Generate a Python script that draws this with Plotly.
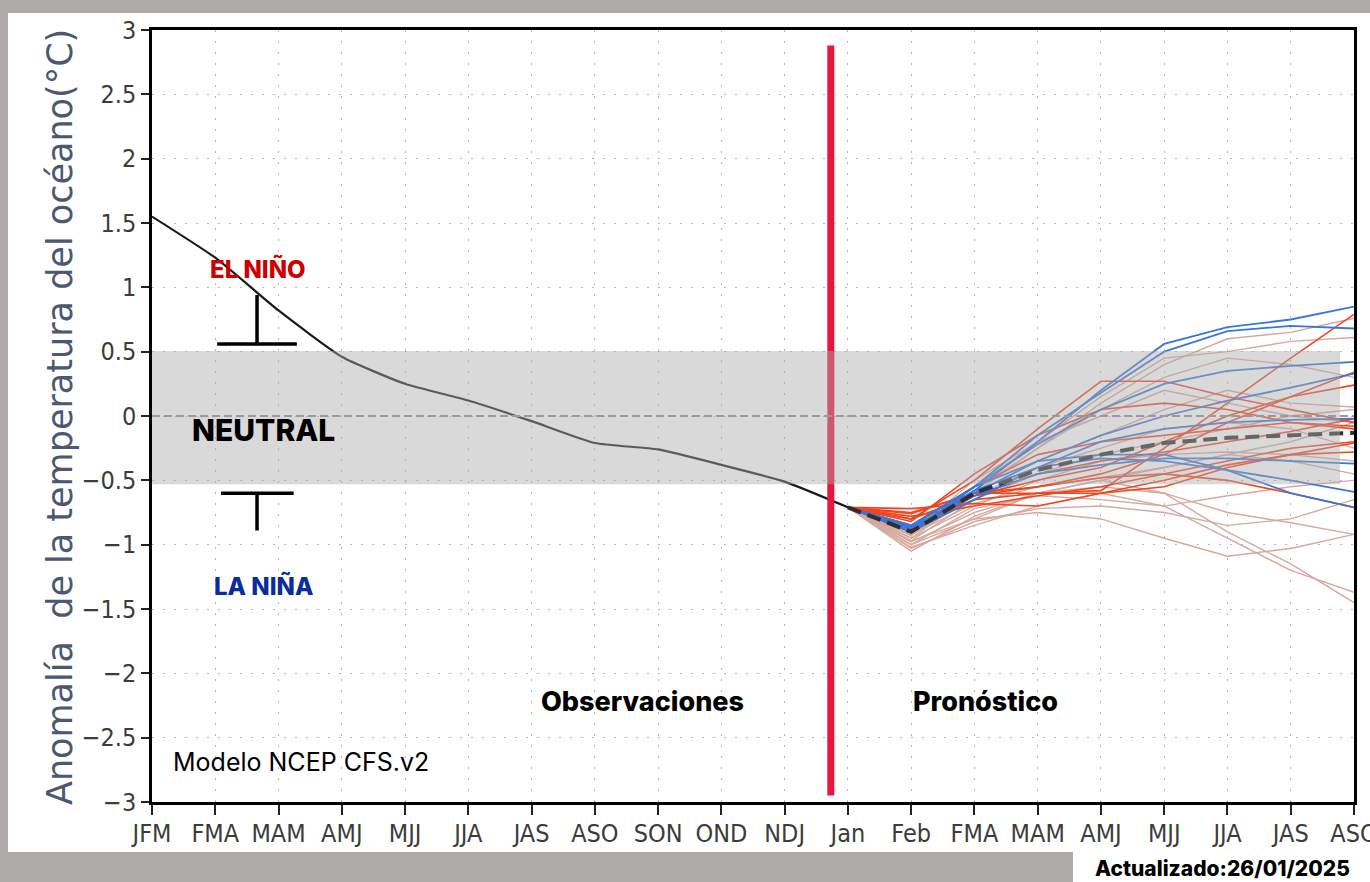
import plotly.graph_objects as go

# Seasons on the x axis (observed run + forecast run)
CATS = ["JFM", "FMA", "MAM", "AMJ", "MJJ", "JJA", "JAS", "ASO", "SON", "OND",
        "NDJ", "Jan", "Feb", "FMA", "MAM", "AMJ", "MJJ", "JJA", "JAS", "ASO"]

# Observed Niño 3.4 anomaly, JFM .. Jan
OBS = [1.55, 1.23, 0.82, 0.46, 0.25, 0.12, -0.04, -0.21, -0.26, -0.38, -0.51, -0.71]

# Forecast members, Jan .. ASO
BLUE_MEMBERS = [
    [-0.71, -0.88, -0.58, -0.20, 0.20, 0.56, 0.69, 0.75, 0.85],
    [-0.71, -0.86, -0.55, -0.15, 0.18, 0.50, 0.66, 0.70, 0.68],
    [-0.71, -0.85, -0.55, -0.22, 0.05, 0.25, 0.35, 0.39, 0.42],
    [-0.71, -0.90, -0.60, -0.35, -0.15, 0.00, 0.12, 0.22, 0.33],
    [-0.71, -0.87, -0.62, -0.45, -0.38, -0.33, -0.33, -0.35, -0.37],
    [-0.71, -0.90, -0.55, -0.35, -0.30, -0.30, -0.42, -0.60, -0.71],
    [-0.71, -0.88, -0.58, -0.40, -0.33, -0.35, -0.42, -0.50, -0.59],
    [-0.71, -0.90, -0.65, -0.40, -0.20, -0.10, -0.05, -0.03, -0.02],
]
RED_MEMBERS = [
    [-0.71, -0.85, -0.65, -0.60, -0.58, -0.25, 0.10, 0.45, 0.79],
    [-0.71, -0.80, -0.50, -0.10, 0.27, 0.27, 0.15, 0.05, -0.05],
    [-0.71, -0.80, -0.62, -0.50, -0.40, -0.20, 0.00, 0.15, 0.24],
    [-0.71, -0.76, -0.60, -0.55, -0.45, -0.30, -0.05, 0.15, 0.34],
    [-0.71, -0.80, -0.62, -0.55, -0.48, -0.45, -0.50, -0.60, -0.71],
    [-0.71, -0.75, -0.60, -0.60, -0.60, -0.55, -0.40, -0.30, -0.21],
    [-0.71, -0.85, -0.55, -0.30, -0.20, -0.15, -0.10, -0.05, -0.08],
    [-0.71, -0.90, -0.62, -0.45, -0.35, -0.28, -0.20, -0.12, -0.02],
    [-0.71, -0.78, -0.70, -0.62, -0.55, -0.45, -0.35, -0.25, -0.20],
    [-0.71, -0.82, -0.45, -0.15, 0.05, 0.10, 0.05, -0.05, -0.10],
    [-0.71, -0.72, -0.68, -0.70, -0.60, -0.50, -0.38, -0.30, -0.28],
]
PALE_MEMBERS = [
    [-0.71, -0.95, -0.60, -0.25, 0.10, 0.40, 0.60, 0.65, 0.76],
    [-0.71, -0.90, -0.55, -0.20, 0.15, 0.45, 0.50, 0.58, 0.61],
    [-0.71, -1.00, -0.80, -0.75, -0.80, -0.95, -1.09, -1.03, -0.92],
    [-0.71, -1.02, -0.85, -0.70, -0.60, -0.70, -0.95, -1.20, -1.37],
    [-0.71, -0.97, -0.80, -0.60, -0.50, -0.60, -0.90, -1.15, -1.45],
    [-0.71, -0.98, -0.75, -0.60, -0.55, -0.60, -0.75, -0.83, -0.92],
    [-0.71, -0.93, -0.60, -0.35, -0.15, 0.05, 0.20, 0.10, 0.07],
    [-0.71, -1.05, -0.78, -0.60, -0.50, -0.40, -0.30, -0.20, -0.05],
    [-0.71, -0.95, -0.70, -0.50, -0.35, -0.30, -0.28, -0.30, -0.35],
    [-0.71, -0.92, -0.68, -0.55, -0.48, -0.40, -0.30, -0.35, -0.45],
    [-0.71, -0.90, -0.50, -0.20, 0.00, 0.20, 0.10, 0.00, -0.05],
    [-0.71, -1.00, -0.72, -0.62, -0.65, -0.70, -0.62, -0.55, -0.50],
    [-0.71, -0.97, -0.65, -0.45, -0.30, -0.20, -0.10, 0.00, 0.05],
    [-0.71, -0.88, -0.62, -0.40, -0.25, -0.10, -0.05, -0.10, -0.25],
    [-0.71, -1.03, -0.82, -0.72, -0.70, -0.75, -0.85, -0.80, -0.65],
    [-0.71, -0.92, -0.58, -0.25, 0.05, 0.30, 0.45, 0.40, 0.30],
]
ENS_MEAN = [-0.71, -0.90, -0.60, -0.42, -0.30, -0.21, -0.17, -0.15, -0.13]

Y_TICKS = [3, 2.5, 2, 1.5, 1, 0.5, 0, -0.5, -1, -1.5, -2, -2.5, -3]
Y_LABELS = ["3", "2.5", "2", "1.5", "1", "0.5", "0", "\u22120.5", "\u22121",
            "\u22121.5", "\u22122", "\u22122.5", "\u22123"]

x_obs = list(range(len(OBS)))
x_fc = list(range(len(OBS) - 1, len(CATS)))

fig = go.Figure()

for members, color, width in [(PALE_MEMBERS, "#d6a89e", 1.4),
                              (RED_MEMBERS, "#f1451f", 1.6),
                              (BLUE_MEMBERS, "#3a76d8", 1.8)]:
    for m in members:
        fig.add_trace(go.Scatter(x=x_fc, y=m, mode="lines",
                                 line=dict(color=color, width=width),
                                 hoverinfo="skip", showlegend=False))

fig.add_trace(go.Scatter(x=x_fc, y=ENS_MEAN, mode="lines",
                         line=dict(color="#2e2e2e", width=4, dash="14px,7px"),
                         showlegend=False))

fig.add_trace(go.Scatter(x=x_obs, y=OBS, mode="lines",
                         line=dict(color="#1a1a1a", width=2.2, shape="spline", smoothing=0.5),
                         showlegend=False))

TICK_FONT = dict(family="Liberation Sans Narrow, DejaVu Sans Condensed, sans-serif",
                 size=25, color="#3c3c3c")
BOLD = "Inter, Lato, sans-serif"

shapes = [
    # white panel behind the chart
    dict(type="rect", xref="paper", yref="paper", x0=-0.1198, x1=1.02, y0=-0.0648, y1=1.022,
         fillcolor="white", line_width=0, layer="below"),
    dict(type="rect", xref="paper", yref="paper", x0=0.7662, x1=1.02, y0=-0.11, y1=-0.06,
         fillcolor="white", line_width=0, layer="below"),
    # boundary between observations and forecast
    dict(type="line", xref="x", yref="y", x0=10.73, x1=10.73, y0=2.88, y1=-2.95,
         line=dict(color="#ea153c", width=7), layer="above"),
    # neutral band
    dict(type="rect", xref="x", yref="y", x0=0, x1=18.78, y0=-0.53, y1=0.505,
         fillcolor="#aaaaaa", opacity=0.45, line_width=0, layer="above"),
    # zero line
    dict(type="line", xref="x", yref="y", x0=0, x1=19, y0=0, y1=0,
         line=dict(color="#9a9a9a", width=2, dash="8px,4px"), layer="above"),
    # El Niño threshold marker
    dict(type="line", xref="x", yref="y", x0=1.66, x1=1.66, y0=0.94, y1=0.56,
         line=dict(color="black", width=3.5), layer="above"),
    dict(type="line", xref="x", yref="y", x0=1.03, x1=2.29, y0=0.56, y1=0.56,
         line=dict(color="black", width=3.5), layer="above"),
    # La Niña threshold marker
    dict(type="line", xref="x", yref="y", x0=1.66, x1=1.66, y0=-0.6, y1=-0.89,
         line=dict(color="black", width=3.5), layer="above"),
    dict(type="line", xref="x", yref="y", x0=1.09, x1=2.24, y0=-0.6, y1=-0.6,
         line=dict(color="black", width=3.5), layer="above"),
]

annotations = [
    dict(text="EL NIÑO", x=1.68, y=1.14, xref="x", yref="y", showarrow=False,
         font=dict(family=BOLD, size=24, color="#cc0000", weight=800)),
    dict(text="NEUTRAL", x=1.77, y=-0.11, xref="x", yref="y", showarrow=False,
         font=dict(family=BOLD, size=30, color="black", weight=800)),
    dict(text="LA NIÑA", x=1.77, y=-1.32, xref="x", yref="y", showarrow=False,
         font=dict(family=BOLD, size=24, color="#0b2c9c", weight=800)),
    dict(text="Observaciones", x=7.76, y=-2.22, xref="x", yref="y", showarrow=False,
         font=dict(family=BOLD, size=27, color="black", weight=800)),
    dict(text="Pronóstico", x=13.18, y=-2.22, xref="x", yref="y", showarrow=False,
         font=dict(family=BOLD, size=27, color="black", weight=800)),
    dict(text="Modelo NCEP CFS.v2", x=0.3, y=-2.69, xref="x", yref="y", showarrow=False,
         xanchor="left", font=dict(family=BOLD, size=25, color="black")),
    dict(text="Actualizado:26/01/2025", xref="paper", yref="paper", x=0.9983, y=-0.0855,
         xanchor="right", yanchor="middle", showarrow=False,
         font=dict(family=BOLD, size=21, color="black", weight=800)),
    dict(text="Anomalía\u00a0 de la temperatura del océano(°C)", xref="paper", yref="paper",
         x=-0.0948, y=0.4987, textangle=-90, showarrow=False,
         font=dict(family="DejaVu Sans, sans-serif", size=35, color="#4a5971", weight=400)),
]

fig.update_layout(
    width=1370, height=882,
    margin=dict(l=152, r=16, t=30, b=80, autoexpand=False),
    paper_bgcolor="#adaaa9",
    plot_bgcolor="white",
    shapes=shapes,
    annotations=annotations,
    showlegend=False,
)

fig.update_xaxes(
    range=[0, 19], tickvals=list(range(len(CATS))), ticktext=CATS,
    tickfont=TICK_FONT, ticks="outside", ticklen=10, tickwidth=1.5, tickcolor="#222",
    ticklabeloverflow="allow", ticklabelstandoff=-3, automargin=False,
    showline=True, linecolor="black", linewidth=2.5, mirror=True,
    showgrid=True, gridcolor="#b8b8b8", gridwidth=1, griddash="2px,9px",
    zeroline=False,
)
fig.update_yaxes(
    range=[-3, 3], tickvals=Y_TICKS, ticktext=Y_LABELS, automargin=False,
    tickfont=TICK_FONT, ticks="outside", ticklen=8, tickwidth=1.5, tickcolor="#222",
    showline=True, linecolor="black", linewidth=2.5, mirror=True,
    showgrid=True, gridcolor="#b8b8b8", gridwidth=1, griddash="2px,9px",
    zeroline=False,
)

fig.write_html("out.html")
